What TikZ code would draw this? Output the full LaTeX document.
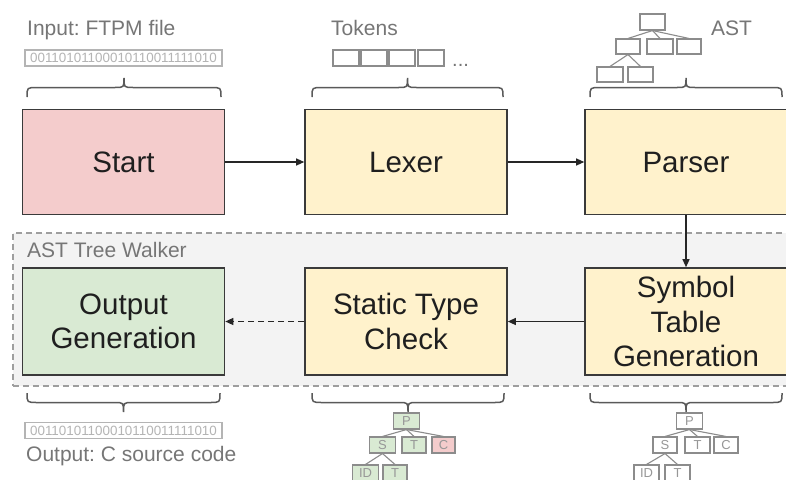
\documentclass[tikz,border=0pt]{standalone}
\usepackage{fontspec}
\setmainfont{Liberation Sans}
\usetikzlibrary{arrows.meta}
\frenchspacing

\definecolor{pinkfill}{HTML}{F4CCCC}
\definecolor{yellowfill}{HTML}{FFF2CC}
\definecolor{greenfill}{HTML}{D9EAD3}
\definecolor{walkerfill}{HTML}{F3F3F3}
\definecolor{walkerline}{HTML}{9E9E9E}
\definecolor{labelgray}{HTML}{767676}
\definecolor{boxline}{HTML}{3A3A3A}
\definecolor{bracegray}{HTML}{5A5A5A}
\definecolor{treeline}{HTML}{8C8C8C}
\definecolor{bitgray}{HTML}{B4B4B4}

% horizontal curly brace: #1,#2 = ends (x), #3 = y of the ends, #4 = y of the tip
\newcommand\curly[4]{%
  \draw[bracestyle] (#1,#3) .. controls (#1,{(#3+#4)/2}) .. ({#1+10},{(#3+#4)/2})
    -- ({(#1+#2)/2-9},{(#3+#4)/2}) .. controls ({(#1+#2)/2},{(#3+#4)/2}) .. ({(#1+#2)/2},#4)
    .. controls ({(#1+#2)/2},{(#3+#4)/2}) .. ({(#1+#2)/2+9},{(#3+#4)/2})
    -- ({#2-10},{(#3+#4)/2}) .. controls (#2,{(#3+#4)/2}) .. (#2,#3);}

\begin{document}
\begin{tikzpicture}[x=1pt,y=-1pt,
  stage/.style={draw=boxline, line width=1.6pt, minimum width=202pt, minimum height=105pt,
    inner sep=0pt, align=center, text=black!88, font=\fontsize{29.5}{34.5}\selectfont},
  flow/.style={draw=black!85, line width=1.2pt, -{Triangle[length=8pt,width=7pt]}},
  caption/.style={inner sep=0pt, text=labelgray, font=\fontsize{21}{24}\selectfont},
  bits/.style={draw=bitgray, line width=1.3pt, fill=white, minimum width=197pt, minimum height=16pt,
    inner sep=0pt, text=bitgray, font=\fontsize{13.4}{14}\selectfont},
  tok/.style={draw=treeline, line width=1.1pt, fill=white, minimum width=26pt, minimum height=16pt, inner sep=0pt},
  mini/.style={tok, text=treeline!90, font=\fontsize{13}{13}\selectfont},
  twig/.style={draw=treeline, line width=1.1pt},
  bracestyle/.style={draw=bracegray, line width=1.5pt},
  walker/.style={draw=walkerline, fill=walkerfill, line width=1.5pt, dash pattern=on 6pt off 4pt,
    minimum width=783pt, minimum height=153pt, inner sep=0pt}]

\useasboundingbox (0,0) rectangle (786,479);
\clip (0,0) rectangle (786,479);
\fill[white] (0,0) rectangle (786,479);

% tree-walker container
\node[walker, anchor=north west] (walk) at (12,232) {};
\node[caption, anchor=base west] (walklabel) at (27,257) {AST Tree Walker};

% pipeline stages
\node[stage, fill=pinkfill]   (start)  at (123.5,162) {Start};
\node[stage, fill=yellowfill] (lexer)  at (406,162)   {Lexer};
\node[stage, fill=yellowfill] (parser) at (686,162)   {Parser};
\node[stage, fill=greenfill, minimum height=107pt]  (output) at (123.5,321.5) {Output\\Generation};
\node[stage, fill=yellowfill, minimum height=107pt] (static) at (406,321.5)   {Static Type\\Check};
\node[stage, fill=yellowfill, minimum height=107pt] (symbol) at (686,321.5)   {Symbol\\Table\\Generation};

\draw[flow] (start.east) -- (lexer.west);
\draw[flow] (lexer.east) -- (parser.west);
\draw[flow] (parser.south) -- (symbol.north);
\draw[flow] (symbol.west) -- (static.east);
\draw[flow, dash pattern=on 6pt off 4pt] (static.west) -- (output.east);

% input file
\node[caption, anchor=base west] (inlabel) at (27,35) {Input: FTPM file};
\node[bits] (inbits) at (123.5,58) {00110101100010110011111010};
\curly{27}{221}{97}{78}

% token stream
\node[caption, anchor=base west] (toklabel) at (331,35) {Tokens};
\node[tok] (t1) at (346,58) {};
\node[tok] (t2) at (374,58) {};
\node[tok] (t3) at (402,58) {};
\node[tok] (t4) at (431,58) {};
\node[inner sep=0pt, text=labelgray, font=\fontsize{20}{20}\selectfont, anchor=base west] (tdots) at (452,66) {...};
\curly{312}{503}{97}{78}

% abstract syntax tree sketch
\node[caption, anchor=base west] (astlabel) at (711,35) {AST};
\node[tok, minimum width=25pt] (a0) at (652.5,22) {};
\node[tok, minimum width=24pt, minimum height=15pt] (a1) at (628,46.5) {};
\node[tok, minimum width=26pt, minimum height=15pt] (a2) at (660,46.5) {};
\node[tok, minimum width=24pt, minimum height=15pt] (a3) at (689,46.5) {};
\node[tok, minimum width=26pt, minimum height=15pt] (a4) at (610,74.5) {};
\node[tok, minimum width=25pt, minimum height=15pt] (a5) at (640.5,74.5) {};
\draw[twig] (a0.south) -- (a1.north);
\draw[twig] (a0.south) -- (a2.north);
\draw[twig] (a0.south) -- (a3.north);
\draw[twig] (a1.south) -- (a4.north);
\draw[twig] (a1.south) -- (a5.north);
\curly{590}{782}{97}{78}

% output file
\curly{27}{220}{393}{412}
\node[bits] (outbits) at (123.5,430.5) {00110101100010110011111010};
\node[caption, anchor=base west] (outlabel) at (26,461) {Output: C source code};

% checked tree
\curly{312}{504}{393}{412}
\node[mini, fill=greenfill] (p1) at (406.5,421) {P};
\node[mini, fill=greenfill] (s1) at (382.5,445) {S};
\node[mini, fill=greenfill, minimum width=24pt] (u1) at (414,445) {T};
\node[mini, fill=pinkfill, minimum width=23pt] (c1) at (443.5,445) {C};
\node[mini, fill=greenfill] (i1) at (365.5,473) {ID};
\node[mini, fill=greenfill, minimum width=24pt] (v1) at (395,473) {T};
\draw[twig] (p1.south) -- (s1.north);
\draw[twig] (p1.south) -- (u1.north);
\draw[twig] (p1.south) -- (c1.north);
\draw[twig] (s1.south) -- (i1.north);
\draw[twig] (s1.south) -- (v1.north);

% tree with symbol table
\curly{590}{782}{393}{412}
\node[mini] (p2) at (689.5,421) {P};
\node[mini, minimum width=24pt] (s2) at (665,445) {S};
\node[mini, minimum width=25pt] (u2) at (697.5,445) {T};
\node[mini, minimum width=24pt] (c2) at (726,445) {C};
\node[mini, minimum width=25pt] (i2) at (646.5,473) {ID};
\node[mini, minimum width=25pt] (v2) at (677.5,473) {T};
\draw[twig] (p2.south) -- (s2.north);
\draw[twig] (p2.south) -- (u2.north);
\draw[twig] (p2.south) -- (c2.north);
\draw[twig] (s2.south) -- (i2.north);
\draw[twig] (s2.south) -- (v2.north);
\end{tikzpicture}
\end{document}
